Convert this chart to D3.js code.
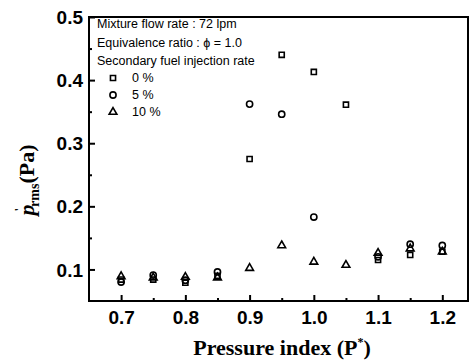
<!DOCTYPE html>
<html><head><meta charset="utf-8">
<script src="https://cdn.jsdelivr.net/npm/d3@7"></script>
<style>body{margin:0;background:#fff}svg{display:block}</style>
</head><body>
<svg id="c" width="476" height="364"></svg>
<script>
const pressure = [0.7,0.75,0.8,0.85,0.9,0.95,1.0,1.05,1.1,1.15,1.2];
const rate0  = [0.084,0.084,0.079,0.090,0.275,0.440,0.413,0.361,0.115,0.123,0.128];
const rate5  = [0.080,0.091,0.083,0.096,0.362,0.346,0.183,null,0.120,0.140,0.138];
const rate10 = [0.089,0.087,0.088,0.087,0.102,0.138,0.112,0.107,0.126,0.133,0.128];
const xTicks = [0.7,0.8,0.9,1.0,1.1,1.2];
const xMinor = [0.75,0.85,0.95,1.05,1.15];
const yTicks = [0.1,0.2,0.3,0.4,0.5];
const yMinor = [0.15,0.25,0.35,0.45];
const legendLines = ["Mixture flow rate : 72 lpm","Equivalence ratio : \u03d5 = 1.0","Secondary fuel injection rate"];
const seriesNames = ["0 %","5 %","10 %"];

const svg = d3.select("#c");
const L=89,R=468,T=17,B=301;
const x = d3.scaleLinear().domain([0.65,1.24]).range([L,R]);
const y = d3.scaleLinear().domain([0.05,0.5]).range([B,T]);
const sans = "'Liberation Sans', Arial, sans-serif";
const serif = "'Liberation Serif', 'Times New Roman', serif";

// axes with inward ticks
const gx = svg.append("g").attr("transform",`translate(0,${B})`)
  .call(d3.axisBottom(x).tickValues(xTicks).tickSize(-6).tickPadding(10).tickFormat(d3.format(".1f")));
const gxm = svg.append("g").attr("transform",`translate(0,${B})`)
  .call(d3.axisBottom(x).tickValues(xMinor).tickSize(-3).tickFormat(""));
const gy = svg.append("g").attr("transform",`translate(${L},0)`)
  .call(d3.axisLeft(y).tickValues(yTicks).tickSize(-6).tickPadding(6).tickFormat(d3.format(".1f")));
const gym = svg.append("g").attr("transform",`translate(${L},0)`)
  .call(d3.axisLeft(y).tickValues(yMinor).tickSize(-3).tickFormat(""));
[gx,gxm,gy,gym].forEach(g=>{
  g.select(".domain").remove();
  g.selectAll(".tick line").attr("stroke","#000").attr("stroke-width",2);
  g.selectAll("text").attr("font-family",sans).attr("font-weight","bold").attr("font-size",19).attr("fill","#000");
});
gy.selectAll("text").attr("dy","0.35em");
gx.selectAll("text").attr("dy","0.71em");

// frame
svg.append("rect").attr("x",L).attr("y",T).attr("width",R-L).attr("height",B-T)
  .attr("fill","none").attr("stroke","#000").attr("stroke-width",2);

// markers
const sym = [d3.symbolSquare, d3.symbolCircle, d3.symbolTriangle];
const sz = [26, 30, 26];
const series = [rate0, rate5, rate10];
series.forEach((vals,i)=>{
  const pts = pressure.map((p,j)=>({p,v:vals[j]})).filter(d=>d.v!=null);
  svg.append("g").selectAll("path").data(pts).join("path")
    .attr("d", d3.symbol(sym[i], sz[i]))
    .attr("transform", d=>`translate(${x(d.p)},${y(d.v)})`)
    .attr("fill","none").attr("stroke","#000").attr("stroke-width",1.6);
});

// legend
const lg = svg.append("g").attr("font-family",sans).attr("font-size",12.5).attr("fill","#000");
legendLines.forEach((t,i)=>{
  lg.append("text").attr("x",97).attr("y",24+i*18.5).attr("dy","0.35em").text(t);
});
seriesNames.forEach((t,i)=>{
  const yy = 78+i*17;
  lg.append("path").attr("d",d3.symbol(sym[i],sz[i])).attr("transform",`translate(113,${yy})`)
    .attr("fill","none").attr("stroke","#000").attr("stroke-width",1.6);
  lg.append("text").attr("x",132).attr("y",yy).attr("dy","0.35em").text(t);
});

// axis titles
svg.append("text").attr("x",282).attr("y",355).attr("text-anchor","middle")
  .attr("font-family",serif).attr("font-weight","bold").attr("font-size",22)
  .html('Pressure index (P<tspan dy="-9" font-size="12">*</tspan><tspan dy="9">)</tspan>');

const yt = svg.append("text").attr("transform","translate(34,180) rotate(-90)")
  .attr("text-anchor","middle").attr("font-family",serif).attr("font-weight","bold").attr("font-size",22);
yt.append("tspan").attr("font-style","italic").text("p");
yt.append("tspan").attr("dy",-11).attr("dx",-7).attr("font-size",13).text("'");
yt.append("tspan").attr("dy",16).attr("dx",1).attr("font-size",14).text("rms");
yt.append("tspan").attr("dy",-5).text("(Pa)");
</script>
</body></html>
